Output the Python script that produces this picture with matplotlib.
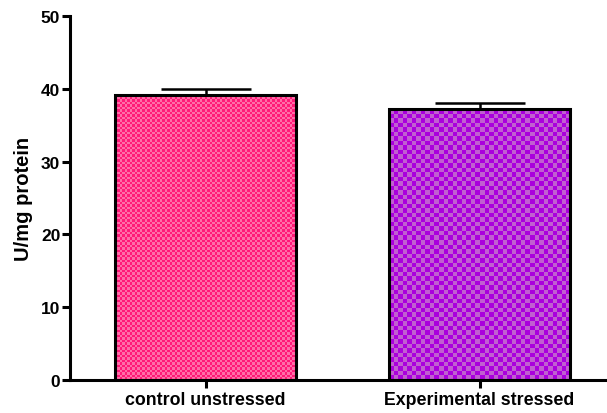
import numpy as np
import matplotlib
matplotlib.use("Agg")
import matplotlib.pyplot as plt

categories = ["control unstressed", "Experimental stressed"]
values = [39.2, 37.2]
errors = [0.8, 0.9]
yticks = [0, 10, 20, 30, 40, 50]
ylabel = "U/mg protein"

base_colors = ["#FF1A78", "#AA00DD"]
light_colors = ["#FF6EA8", "#C060D0"]
check_px = [2.5, 4.5]

plt.rcParams['font.family'] = ['Liberation Sans', 'DejaVu Sans']
plt.rcParams['font.weight'] = 'bold'

fig = plt.figure(figsize=(6.07, 4.14), dpi=100)
ax = fig.add_axes([70/607, 1-381/414, 537/607, 364/414])

x = np.arange(len(categories))
width = 0.663
bars = ax.bar(x, values, width=width, color=base_colors, edgecolor='none', zorder=1)

xlim = (-0.495, 1.465)
ylim = (0, 50)
ax_w_px = 537
ax_h_px = 364
for i, b in enumerate(bars):
    x0, y0 = b.get_x(), b.get_y()
    w, h = b.get_width(), b.get_height()
    wpx = w / (xlim[1]-xlim[0]) * ax_w_px
    hpx = h / (ylim[1]-ylim[0]) * ax_h_px
    nx = max(1, int(round(wpx / check_px[i])))
    ny = max(1, int(round(hpx / check_px[i])))
    grid = (np.add.outer(np.arange(ny), np.arange(nx)) % 2)
    c0 = np.array(matplotlib.colors.to_rgb(base_colors[i]))
    c1 = np.array(matplotlib.colors.to_rgb(light_colors[i]))
    img = np.where(grid[..., None] == 1, c1, c0)
    im = ax.imshow(img, extent=(x0, x0+w, y0, y0+h), origin='lower',
                   interpolation='nearest', zorder=2, aspect='auto')
    im.set_clip_path(b)

ax.bar(x, values, width=width, fill=False, edgecolor='black', linewidth=2.2, zorder=3)
ax.errorbar(x, values, yerr=[[0]*len(errors), errors], fmt='none', ecolor='black',
            elinewidth=1.8, capsize=32.4, capthick=1.8, zorder=2.5)

ax.set_aspect('auto')
ax.set_xlim(*xlim)
ax.set_ylim(*ylim)
ax.set_yticks(yticks)
ax.set_xticks(x)
ax.set_xticklabels(categories, fontsize=12.8, fontweight='bold')
ax.set_yticklabels([str(t) for t in yticks], fontsize=12.5, fontweight='bold')
ax.set_ylabel(ylabel, fontsize=14.5, fontweight='bold', labelpad=6)

for s in ['top', 'right']:
    ax.spines[s].set_visible(False)
for s in ['left', 'bottom']:
    ax.spines[s].set_linewidth(2.2)
ax.tick_params(axis='both', width=2.2, length=6, direction='out', pad=1)
ax.tick_params(axis='x', pad=2)

fig.savefig("out.png", dpi=100)
